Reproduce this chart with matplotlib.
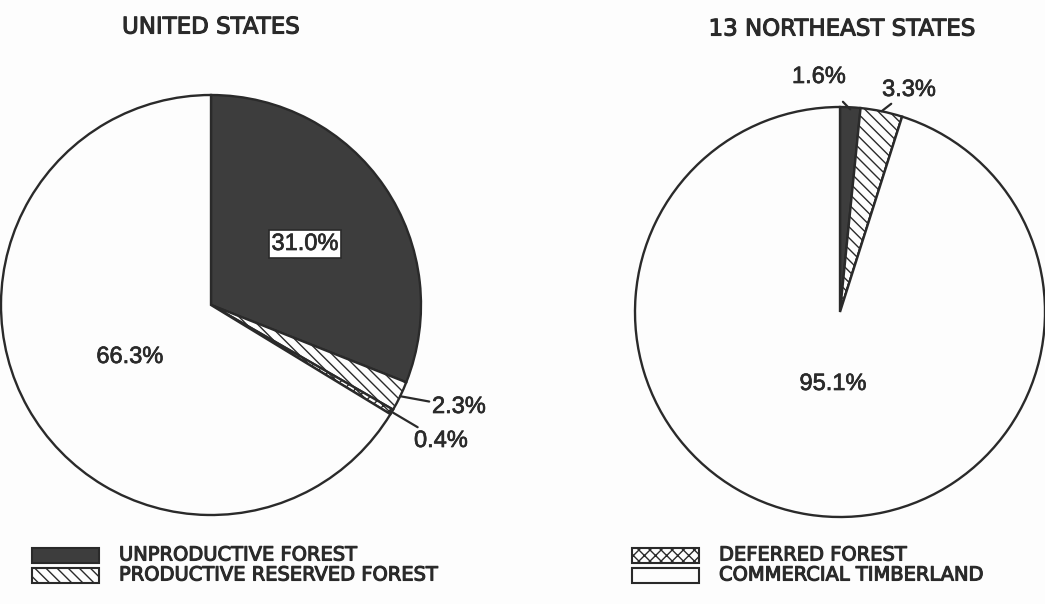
import numpy as np
import matplotlib
matplotlib.use("Agg")
import matplotlib.pyplot as plt
from matplotlib.patches import Rectangle
import matplotlib.patheffects as pe

plt.rcParams['font.family'] = ['Liberation Sans', 'DejaVu Sans']
plt.rcParams['hatch.linewidth'] = 1.0

# Data
categories = ["UNPRODUCTIVE FOREST", "PRODUCTIVE RESERVED FOREST",
              "DEFERRED FOREST", "COMMERCIAL TIMBERLAND"]
us_values = [31.0, 2.3, 0.4, 66.3]
ne_values = [1.6, 3.3, 0.0, 95.1]
titles = ["UNITED STATES", "13 NORTHEAST STATES"]

dark = "#3d3d3d"
ink = "#2a2a2a"
bg = "#fdfdfd"
faces = [dark, bg, bg, bg]
hatches = [None, "\\\\\\", "xxx", None]

W, H = 1045, 604
fig = plt.figure(figsize=(W / 100, H / 100), dpi=100, facecolor=bg)
ax = fig.add_axes([0, 0, 1, 1])
ax.set_facecolor(bg)

num_kw = dict(fontsize=17, color=ink, family=['Liberation Sans', 'DejaVu Sans'],
              path_effects=[pe.withStroke(linewidth=0.5, foreground=ink)])
lab_kw = dict(color=ink, family=['DejaVu Sans'],
              path_effects=[pe.withStroke(linewidth=0.8, foreground=ink)])


def draw_pie(values, center, radius):
    vals = [v if v > 0 else 1e-9 for v in values]
    wedges, _ = ax.pie(vals, center=center, radius=radius, startangle=90,
                       counterclock=False, normalize=True, frame=True,
                       wedgeprops=dict(edgecolor=ink, linewidth=1.7))
    for w, fc, h in zip(wedges, faces, hatches):
        w.set_facecolor(fc)
        if h:
            w.set_hatch(h)
    return wedges


def wedge_point(w, center, frac):
    ang = np.deg2rad((w.theta1 + w.theta2) / 2)
    return (center[0] + w.r * frac * np.cos(ang), center[1] + w.r * frac * np.sin(ang))


# Left pie
cl = (211, H - 305)
wl = draw_pie(us_values, cl, 210)
# Right pie
cr = (840, H - 312)
wr = draw_pie(ne_values, cr, 205)

ax.set_xlim(0, W)
ax.set_ylim(0, H)
ax.set_aspect('equal')
ax.axis('off')

ax.text(305, H - 244, f"{us_values[0]:.1f}%", ha='center', va='center',
        bbox=dict(boxstyle='square,pad=0.12', fc='white', ec=ink, lw=1.2), **num_kw)
ax.text(130, H - 357, f"{us_values[3]:.1f}%", ha='center', va='center', **num_kw)
p = wedge_point(wl[1], cl, 1.0)
ax.annotate(f"{us_values[1]:.1f}%", xy=p, xytext=(432, H - 407), ha='left', va='center',
            arrowprops=dict(arrowstyle='-', color=ink, lw=1.6, shrinkA=0, shrinkB=0), **num_kw)
p = wedge_point(wl[2], cl, 0.99)
ax.annotate(f"{us_values[2]:.1f}%", xy=p, xytext=(414, H - 441), ha='left', va='center',
            arrowprops=dict(arrowstyle='-', color=ink, lw=1.6, shrinkA=0, shrinkB=0), **num_kw)

ax.text(833, H - 384, f"{ne_values[3]:.1f}%", ha='center', va='center', **num_kw)
p = wedge_point(wr[0], cr, 0.99)
ax.annotate(f"{ne_values[0]:.1f}%", xy=p, xytext=(819, H - 77), ha='center', va='center',
            arrowprops=dict(arrowstyle='-', color=ink, lw=1.6, shrinkA=11, shrinkB=0), **num_kw)
p = wedge_point(wr[1], cr, 1.0)
ax.annotate(f"{ne_values[1]:.1f}%", xy=p, xytext=(909, H - 90), ha='center', va='center',
            arrowprops=dict(arrowstyle='-', color=ink, lw=1.6, shrinkA=11, shrinkB=0), **num_kw)

# Titles
ax.text(211, H - 27, titles[0], fontsize=16.5, ha='center', va='center', **lab_kw)
ax.text(842, H - 29, titles[1], fontsize=16.5, ha='center', va='center', **lab_kw)

# Legends
legend_pos = [(32, 548), (32, 568), (632, 548), (632, 568)]
for (x, y), cat, fc, h in zip(legend_pos, categories, faces, hatches):
    r = Rectangle((x, H - y - 15), 67, 15, facecolor=fc, edgecolor=ink, lw=1.5, hatch=h)
    ax.add_patch(r)
    ax.text(x + 87, H - y - 7, cat, fontsize=14, ha='left', va='center', **lab_kw)

fig.savefig("out.png", dpi=100, facecolor=bg)
